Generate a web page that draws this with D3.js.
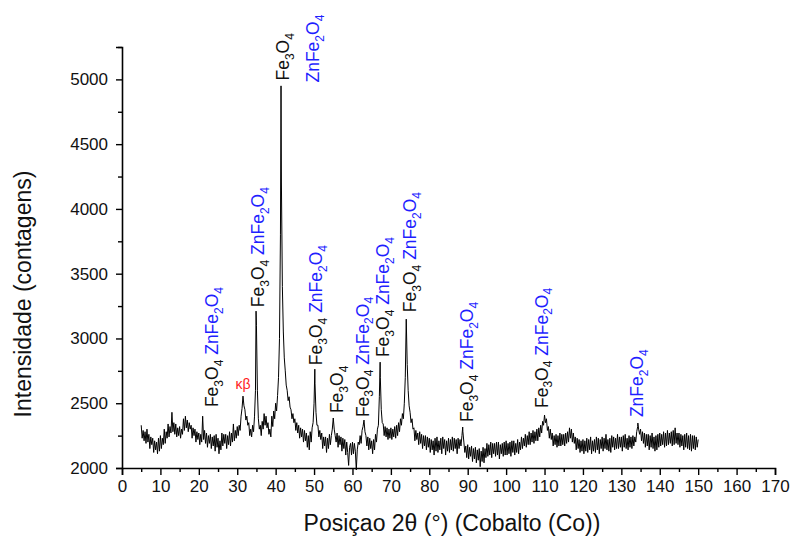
<!DOCTYPE html>
<html>
<head>
<meta charset="utf-8">
<script src="https://cdn.jsdelivr.net/npm/d3@7"></script>
<style>
  body { margin: 0; background: #fff; }
  text { font-family: "Liberation Sans", Arial, sans-serif; }
</style>
</head>
<body>
<svg></svg>
<script>
// diffractogram, sampled every 0.25 deg from 5 to 150 (one row = 5 deg)
const thetaStart = 5
const thetaStep = 0.25
const counts = [
  2330, 2230, 2290, 2210, 2280, 2190, 2300, 2200, 2260, 2150, 2240, 2180, 2230, 2120, 2210, 2140, 2200, 2110, 2230, 2130,
  2250, 2150, 2230, 2180, 2300, 2190, 2280, 2230, 2340, 2240, 2320, 2270, 2430, 2280, 2350, 2260, 2340, 2240, 2310, 2250,
  2320, 2230, 2300, 2260, 2380, 2290, 2400, 2310, 2370, 2280, 2350, 2300, 2330, 2230, 2310, 2250, 2300, 2200, 2280, 2220,
  2270, 2180, 2260, 2200, 2400, 2220, 2290, 2190, 2270, 2160, 2250, 2190, 2260, 2150, 2240, 2170, 2250, 2130, 2260, 2160,
  2230, 2110, 2210, 2140, 2270, 2170, 2260, 2190, 2260, 2150, 2250, 2180, 2280, 2170, 2270, 2200, 2340, 2210, 2290, 2230,
  2320, 2250, 2330, 2290, 2400, 2460, 2555, 2480, 2450, 2370, 2400, 2330, 2350, 2250, 2300, 2240, 2330, 2280, 2400, 2600,
  3100, 2600, 2380, 2300, 2330, 2250, 2360, 2300, 2420, 2330, 2400, 2310, 2350, 2260, 2300, 2240, 2400, 2320, 2440, 2380,
  2500, 2440, 2560, 2700, 3000, 3800, 4200, 3400, 3050, 2850, 2750, 2640, 2600, 2520, 2550, 2470, 2450, 2380, 2420, 2350,
  2380, 2290, 2350, 2270, 2330, 2230, 2310, 2240, 2300, 2200, 2290, 2210, 2270, 2160, 2250, 2140, 2280, 2200, 2310, 2350,
  2500, 2650, 2430, 2330, 2330, 2240, 2290, 2220, 2270, 2150, 2240, 2170, 2240, 2120, 2230, 2150, 2260, 2180, 2250, 2300,
  2386, 2300, 2250, 2200, 2270, 2160, 2250, 2180, 2240, 2130, 2230, 2150, 2220, 2100, 2200, 2120, 2020, 2160, 2190, 2100,
  2200, 2110, 2190, 2130, 1985, 2140, 2200, 2180, 2250, 2190, 2290, 2320, 2370, 2280, 2250, 2170, 2240, 2140, 2230, 2150,
  2210, 2110, 2220, 2140, 2260, 2200, 2300, 2330, 2550, 2700, 2450, 2350, 2340, 2250, 2320, 2240, 2310, 2220, 2300, 2230,
  2310, 2220, 2300, 2240, 2320, 2230, 2330, 2250, 2350, 2280, 2380, 2330, 2420, 2380, 2500, 2700, 3149, 2800, 2600, 2480,
  2430, 2350, 2380, 2300, 2310, 2210, 2290, 2220, 2270, 2180, 2280, 2190, 2260, 2150, 2250, 2170, 2250, 2140, 2240, 2160,
  2230, 2120, 2220, 2140, 2210, 2100, 2230, 2130, 2240, 2120, 2210, 2140, 2230, 2110, 2240, 2150, 2220, 2100, 2210, 2130,
  2230, 2120, 2220, 2140, 2240, 2130, 2230, 2150, 2220, 2110, 2230, 2150, 2220, 2170, 2250, 2280, 2200, 2120, 2170, 2080,
  2180, 2070, 2160, 2090, 2170, 2050, 2150, 2070, 2160, 2040, 2140, 2060, 2150, 2010, 2130, 2050, 2160, 2040, 2150, 2080,
  2190, 2090, 2180, 2100, 2200, 2080, 2190, 2110, 2190, 2090, 2200, 2100, 2200, 2070, 2180, 2110, 2190, 2090, 2200, 2100,
  2210, 2100, 2190, 2110, 2200, 2090, 2210, 2120, 2210, 2100, 2190, 2120, 2220, 2110, 2200, 2140, 2240, 2150, 2230, 2170,
  2260, 2160, 2250, 2180, 2280, 2180, 2270, 2200, 2290, 2190, 2280, 2210, 2300, 2210, 2310, 2240, 2330, 2270, 2360, 2330,
  2409, 2350, 2380, 2290, 2320, 2230, 2300, 2220, 2270, 2170, 2250, 2180, 2260, 2160, 2250, 2170, 2270, 2170, 2260, 2180,
  2260, 2170, 2270, 2190, 2280, 2200, 2310, 2230, 2300, 2200, 2270, 2190, 2240, 2140, 2230, 2150, 2220, 2120, 2210, 2130,
  2220, 2110, 2210, 2130, 2230, 2120, 2220, 2140, 2240, 2110, 2210, 2130, 2220, 2120, 2240, 2140, 2230, 2110, 2220, 2150,
  2240, 2130, 2230, 2150, 2260, 2140, 2220, 2130, 2230, 2120, 2250, 2160, 2240, 2140, 2230, 2150, 2260, 2150, 2240, 2160,
  2240, 2130, 2250, 2160, 2260, 2150, 2230, 2140, 2250, 2160, 2240, 2150, 2250, 2170, 2240, 2200, 2280, 2320, 2300, 2260,
  2300, 2210, 2280, 2190, 2270, 2160, 2260, 2170, 2260, 2140, 2250, 2160, 2270, 2150, 2240, 2130, 2250, 2140, 2260, 2160,
  2270, 2170, 2260, 2180, 2280, 2160, 2270, 2170, 2290, 2180, 2270, 2190, 2280, 2170, 2290, 2180, 2310, 2190, 2270, 2180,
  2270, 2160, 2260, 2170, 2250, 2140, 2260, 2160, 2270, 2150, 2250, 2140, 2260, 2130, 2250, 2150, 2250, 2140, 2240, 2160,
  2220
]
// peak tops that fall between samples
const peakTheta = [34.9, 41.4, 50.2, 67.2, 88.7, 134.3]
const peakCounts = [3211, 4950, 2763, 2817, 2316, 2347]

// phase labels (2theta, counts at the foot of the label)
const labelTheta = [23.4, 35.4, 41.9, 49.7, 50.5, 56.0, 62.7, 68.0, 75.0, 89.8, 109.3, 134.1]
const labelCount = [2470, 3241, 4991, 4976, 2794, 2424, 2393, 2856, 3203, 2355, 2463, 2393]
const labelPhases = ['both', 'both', 'fe', 'zn', 'both', 'fe', 'both', 'both', 'both', 'both', 'both', 'zn']
const kbTheta = 31.5
const kbCount = 2609

const xTicks = d3.range(0, 171, 10)
const yTicks = [2000, 2500, 3000, 3500, 4000, 4500, 5000]

const WIDTH = 792
const HEIGHT = 538

const svg = d3.select('svg')
  .attr('width', WIDTH)
  .attr('height', HEIGHT)

const x = d3.scaleLinear().domain([0, 170]).range([122, 775])
const y = d3.scaleLinear().domain([2000, 5250]).range([468, 47])

const points = counts.map((c, i) => [thetaStart + i * thetaStep, c])
  .concat(peakTheta.map((t, i) => [t, peakCounts[i]]))
  .sort((a, b) => a[0] - b[0])

svg.append('path')
  .datum(points)
  .attr('fill', 'none')
  .attr('stroke', '#000')
  .attr('stroke-width', 1)
  .attr('stroke-linejoin', 'round')
  .attr('d', d3.line().x(d => x(d[0])).y(d => y(d[1])))

// axes
const axisX = d3.axisBottom(x).tickValues(xTicks).tickSize(7).tickPadding(5)
const axisXMinor = d3.axisBottom(x).tickValues(d3.range(5, 170, 10)).tickSize(4).tickFormat('')
const axisY = d3.axisLeft(y).tickValues(yTicks).tickSize(6).tickPadding(8).tickFormat(d3.format('d'))
const axisYMinor = d3.axisLeft(y).tickValues(d3.range(2250, 5251, 500)).tickSize(4).tickFormat('')

svg.append('g').attr('transform', 'translate(0, 468)').call(axisX)
svg.append('g').attr('transform', 'translate(0, 468)').call(axisXMinor)
  .call(g => g.select('.domain').remove())
svg.append('g').attr('transform', 'translate(122, 0)').call(axisY)
svg.append('g').attr('transform', 'translate(122, 0)').call(axisYMinor)
  .call(g => g.select('.domain').remove())

svg.selectAll('.domain').attr('stroke-width', 1.6)
svg.selectAll('.tick line').attr('stroke-width', 1.4)
svg.selectAll('.tick text')
  .attr('font-family', '"Liberation Sans", Arial, sans-serif')
  .attr('font-size', 17)
  .attr('fill', '#111')

svg.append('text')
  .attr('x', 452)
  .attr('y', 531)
  .attr('text-anchor', 'middle')
  .attr('font-size', 23)
  .attr('fill', '#111')
  .text('Posiçao 2θ (°) (Cobalto (Co))')

svg.append('text')
  .attr('transform', 'translate(23, 294) rotate(-90)')
  .attr('text-anchor', 'middle')
  .attr('dy', '0.35em')
  .attr('font-size', 23)
  .attr('fill', '#111')
  .text('Intensidade (contagens)')

// formula pieces: [text, isSubscript]
const feParts = [['Fe', false], ['3', true], ['O', false], ['4', true]]
const znParts = [['ZnFe', false], ['2', true], ['O', false], ['4', true]]

function addParts(textSel, parts, color) {
  let shifted = false
  parts.forEach(([t, sub]) => {
    const ts = textSel.append('tspan').attr('fill', color).text(t)
    if (sub) {
      ts.attr('font-size', 12).attr('dy', 4.5)
      shifted = true
    } else if (shifted) {
      ts.attr('dy', -4.5)
      shifted = false
    }
  })
}

labelTheta.forEach((t, i) => {
  const label = svg.append('text')
    .attr('transform', `translate(${x(t)}, ${y(labelCount[i])}) rotate(-90)`)
    .attr('dy', '0.35em')
    .attr('font-size', 17.5)
  const kind = labelPhases[i]
  if (kind === 'fe' || kind === 'both') addParts(label, feParts, '#111')
  if (kind === 'both') label.append('tspan').attr('dy', -4.5).text('\u00a0')
  if (kind === 'zn' || kind === 'both') addParts(label, znParts, '#1f1fff')
})

svg.append('text')
  .attr('x', x(kbTheta))
  .attr('y', y(kbCount))
  .attr('text-anchor', 'middle')
  .attr('font-size', 14)
  .attr('fill', '#ff1a1a')
  .text('κβ')
</script>
</body>
</html>
